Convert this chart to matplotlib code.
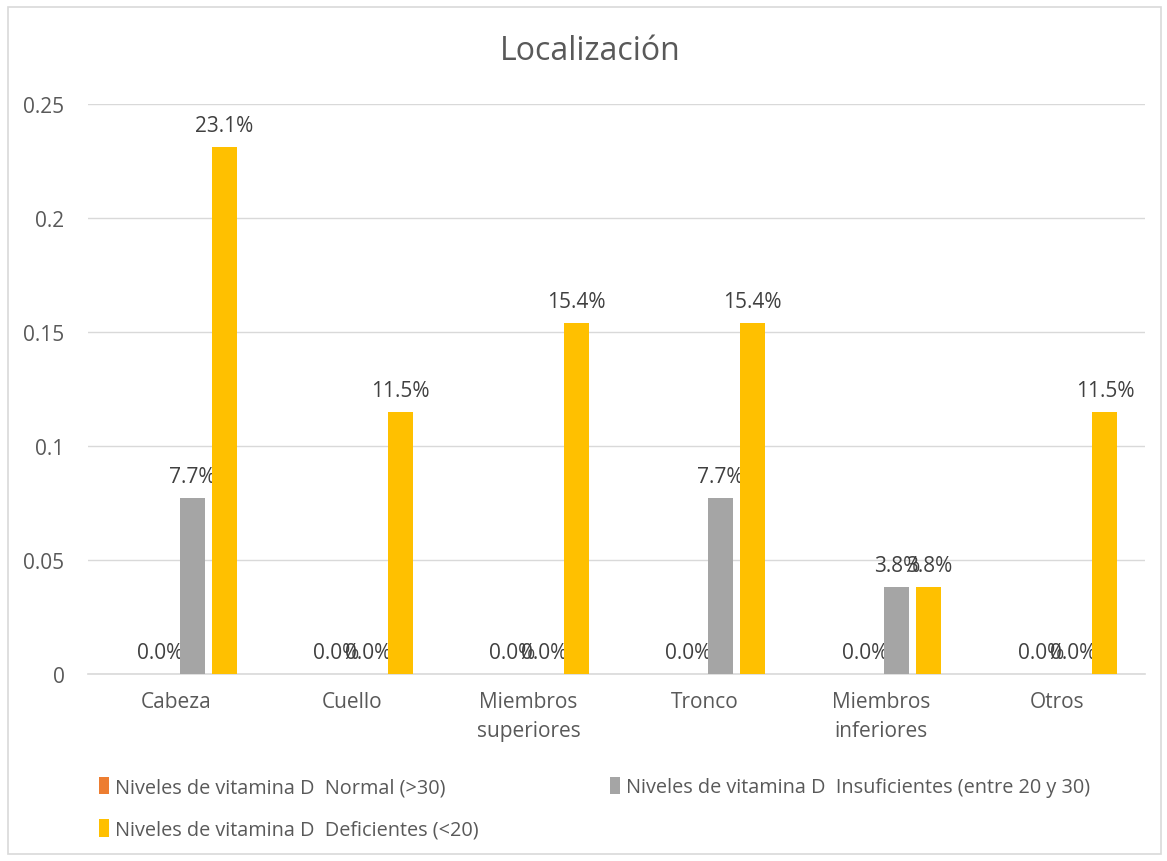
import numpy as np
import matplotlib.pyplot as plt
from matplotlib.patches import Rectangle

# Datos
categorias = ["Cabeza", "Cuello", "Miembros\nsuperiores", "Tronco", "Miembros\ninferiores", "Otros"]
normal = [0.0, 0.0, 0.0, 0.0, 0.0, 0.0]
insuficientes = [0.077, 0.0, 0.0, 0.077, 0.038, 0.0]
deficientes = [0.231, 0.115, 0.154, 0.154, 0.038, 0.115]
series_nombres = ["Niveles de vitamina D  Normal (>30)",
                  "Niveles de vitamina D  Insuficientes (entre 20 y 30)",
                  "Niveles de vitamina D  Deficientes (<20)"]
colores = ["#ED7D31", "#A5A5A5", "#FFC000"]
yticks = [0, 0.05, 0.1, 0.15, 0.2, 0.25]
ytick_labels = ["0", "0.05", "0.1", "0.15", "0.2", "0.25"]

plt.rcParams['font.family'] = ['Open Sans', 'DejaVu Sans']
texto = "#595959"

fig = plt.figure(figsize=(11.67, 8.62), dpi=100)
fig.patches.append(Rectangle((0.007, 0.008), 0.988, 0.983, transform=fig.transFigure,
                             fill=False, edgecolor="#D9D9D9", linewidth=1.2))
ax = fig.add_axes([0.0754, 0.217, 0.9057, 0.661])

x = np.arange(len(categorias))
ancho = 0.142
paso = 0.182
# el grupo esta desplazado como si hubiera una cuarta serie vacia al principio
for i, (vals, nombre, col) in enumerate(zip([normal, insuficientes, deficientes], series_nombres, colores)):
    pos = x + (i - 0.5) * paso
    ax.bar(pos, vals, ancho, color=col, label=nombre, zorder=3)
    for p, v in zip(pos, vals):
        ax.annotate("%.1f%%" % (v * 100), (p, v), xytext=(0, 8), textcoords="offset points",
                    ha="center", va="bottom", fontsize=15, color="#404040")

ax.set_xlim(-0.5, len(categorias) - 0.5)
ax.set_ylim(0, 0.25)
ax.set_yticks(yticks)
ax.set_yticklabels(ytick_labels)
ax.set_xticks(x)
ax.set_xticklabels(categorias, linespacing=1.5)
ax.tick_params(axis="both", length=0, labelsize=15, colors=texto)
ax.tick_params(axis="x", pad=12)
ax.tick_params(axis="y", pad=17)
ax.grid(axis="y", color="#D9D9D9", linewidth=1, zorder=0)
for s in ["top", "right", "left"]:
    ax.spines[s].set_visible(False)
ax.spines["bottom"].set_color("#D9D9D9")
ax.spines["bottom"].set_linewidth(1.2)

fig.text(0.506, 0.94, "Localización", ha="center", va="center", fontsize=23, color=texto)

h, l = ax.get_legend_handles_labels()
orden = [0, 2, 1]
fig.legend([h[i] for i in orden], [l[i] for i in orden], ncol=2, loc="upper left",
           bbox_to_anchor=(0.085, 0.098), frameon=False, fontsize=14.3, labelcolor=texto,
           handlelength=0.5, handleheight=1.0, handletextpad=0.3, columnspacing=6.6,
           labelspacing=1.1, borderaxespad=0, borderpad=0)

fig.savefig("out.png", dpi=100, facecolor="white")
